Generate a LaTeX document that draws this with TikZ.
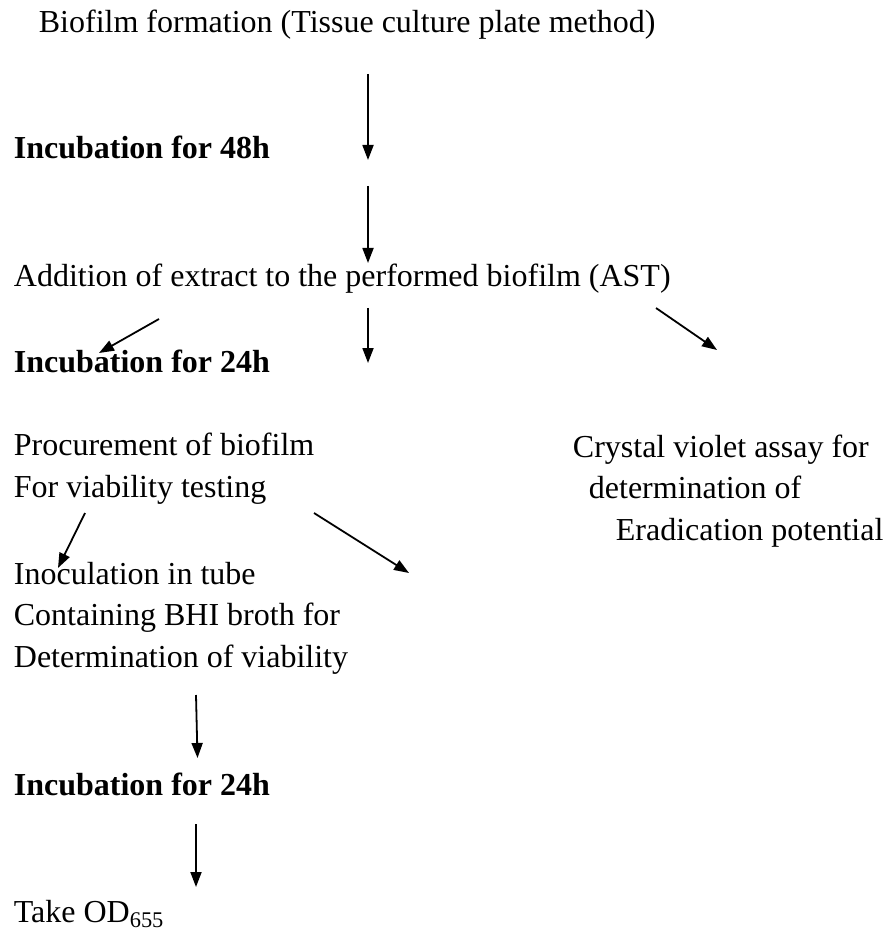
\documentclass[tikz,border=0pt]{standalone}
\usepackage{fontspec}
\setmainfont{Liberation Serif}
\usetikzlibrary{arrows.meta}
\begin{document}
\begin{tikzpicture}[x=0.5pt,y=-0.5pt,>={Triangle[length=7.5pt,width=5.5pt]}, line width=0.9pt,
	txt/.style={anchor=base west,inner sep=0pt,align=left,font=\fontsize{16}{20.7}\selectfont},
	bld/.style={txt,font=\fontsize{16}{20.7}\selectfont\bfseries}]
	\useasboundingbox (0,0) rectangle (885,930);
	% text (multi-line nodes sit on their last baseline)
	\node[txt] (bf) at (38,33) {Biofilm formation (Tissue culture plate method)};
	\node[bld] (inc48) at (13,159) {Incubation for 48h};
	\node[txt] (add) at (13,287) {Addition of extract to the performed biofilm (AST)};
	\node[bld] (inc24) at (13,372) {Incubation for 24h};
	\node[txt] (proc) at (13,497) {Procurement of biofilm\\For viability testing};
	\node[txt] (cv) at (572,540) {Crystal violet assay for\\\hspace*{8pt}determination of\\\hspace*{21.5pt}Eradication potential};
	\node[txt] (inoc) at (13,667) {Inoculation in tube\\Containing BHI broth for\\Determination of viability};
	\node[bld] (inc24b) at (13,795) {Incubation for 24h};
	\node[txt] (od) at (13,922) {Take OD\textsubscript{655}};
	% arrow ends
	\coordinate (s1) at (368,74);  \coordinate (e1) at (368,160);
	\coordinate (s2) at (368,186); \coordinate (e2) at (368,263);
	\coordinate (s3) at (159,319); \coordinate (e3) at (99,353);
	\coordinate (s4) at (368,308); \coordinate (e4) at (368,363);
	\coordinate (s5) at (656,308); \coordinate (e5) at (717,350);
	\coordinate (s6) at (85,513);  \coordinate (e6) at (58,568);
	\coordinate (s7) at (314,513); \coordinate (e7) at (409,573);
	\coordinate (s8) at (196,695); \coordinate (e8) at (197.5,758);
	\coordinate (s9) at (196,824); \coordinate (e9) at (196,887);
	\foreach \i in {1,...,9} \draw[->] (s\i) -- (e\i);
\end{tikzpicture}
\end{document}
